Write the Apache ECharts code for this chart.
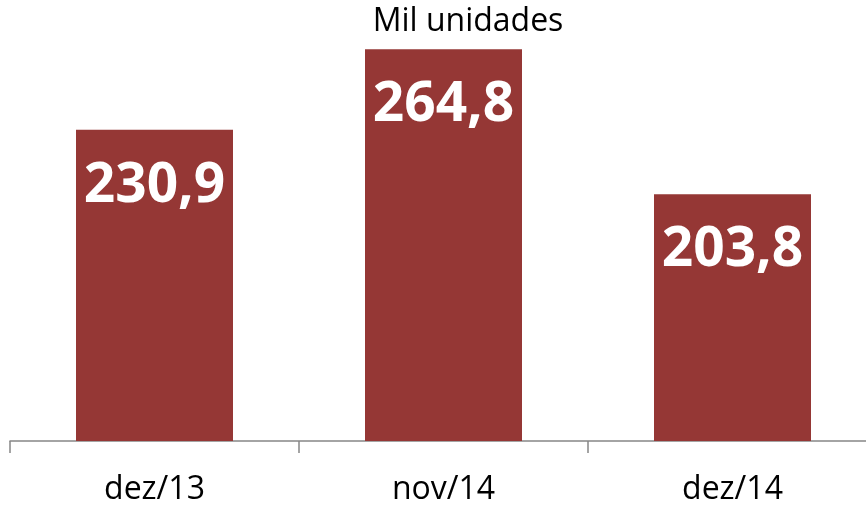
<!DOCTYPE html>
<html><head><meta charset="utf-8">
<script src="https://cdn.jsdelivr.net/npm/echarts@6/dist/echarts.min.js"></script>
<style>html,body{margin:0;padding:0;background:#fff}#c{width:866px;height:507px}</style>
</head><body><div id="c"></div>
<script>
const categories = ['dez/13', 'nov/14', 'dez/14'];
const values = [230.9, 264.8, 203.8];
const unitLabel = 'Mil unidades';

const chart = echarts.init(document.getElementById('c'), null, {renderer: 'canvas'});
chart.setOption({
  animation: false,
  backgroundColor: '#ffffff',
  title: {
    text: unitLabel,
    left: 463, top: 1, textAlign: 'center',
    textStyle: {fontFamily: 'Open Sans', fontSize: 32, fontWeight: 'normal', color: '#000'}
  },
  grid: {left: 10, width: 867, top: 13, bottom: 66, outerBoundsMode: 'none', containLabel: false},
  xAxis: {
    type: 'category', data: categories, boundaryGap: true,
    axisLine: {lineStyle: {color: '#868686', width: 1.5}},
    axisTick: {show: true, length: 12, lineStyle: {color: '#868686', width: 1.5}},
    axisLabel: {fontFamily: 'Open Sans', fontSize: 32, color: '#000', margin: 33}
  },
  yAxis: {type: 'value', min: 100, max: 280, show: false, splitLine: {show: false}},
  series: [{
    type: 'bar', data: values, barWidth: 157,
    itemStyle: {color: '#953735'},
    label: {
      show: true, position: 'insideTop', distance: 29,
      formatter: p => p.value.toFixed(1).replace('.', ','),
      fontFamily: 'Open Sans', fontSize: 55, fontWeight: 'bold', color: '#fff'
    }
  }]
});
</script></body></html>
